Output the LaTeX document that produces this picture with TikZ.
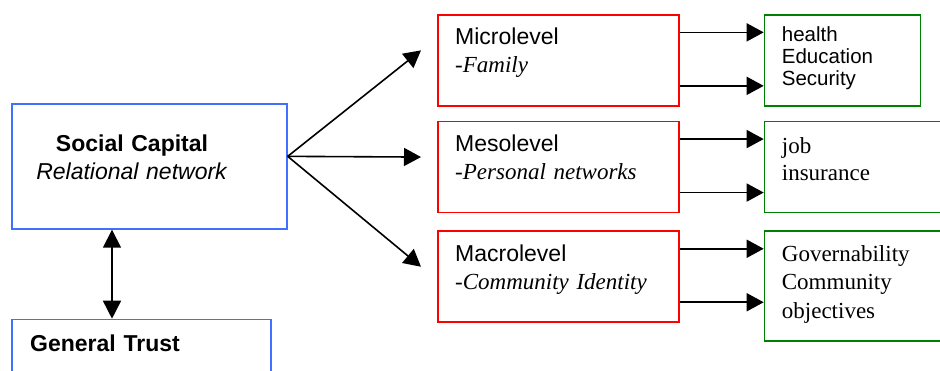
\documentclass[tikz,border=0pt]{standalone}
\usepackage{fontspec}
\setmainfont{Liberation Serif}
\setsansfont{Liberation Sans}
\usetikzlibrary{arrows.meta,positioning,calc}
\definecolor{capblue}{RGB}{64,112,255}
\definecolor{levred}{RGB}{255,0,0}
\definecolor{outgreen}{RGB}{0,128,0}
\tikzset{main base/.style={draw,line width=1.7pt,inner sep=0pt, }, }
\tikzset{main node/.style={rectangle,main base,anchor=north west}, }
\tikzset{capital node/.style={main node,draw=capblue}, }
\tikzset{level node/.style={main node,draw=levred,
    minimum width=241pt, minimum height=91pt}, }
\tikzset{result node/.style={main node,draw=outgreen,minimum height=91pt}, }
\tikzset{main verb/.style={anchor=base west,inner sep=0pt,text width=#1,align=left}, }
\tikzset{main verb/.default=220pt}
\tikzset{sans text/.style={font=\sffamily\fontsize{23}{28}\selectfont}, }
\tikzset{serif text/.style={font=\fontsize{23}{28}\selectfont}, }
\tikzset{linea/.style={-{Triangle[length=17pt,width=18pt]},line width=1.6pt,draw}}
\tikzset{linea2/.style={{Triangle[length=18pt,width=18pt]}-{Triangle[length=18pt,width=18pt]},line width=1.6pt,draw}}

\begin{document}
\begin{tikzpicture}[x=1pt,y=-1pt]
\useasboundingbox (0,0) rectangle (940,370);
%
\node[capital node,minimum width=275pt,minimum height=125pt] (1) at (11,103) {};
\node[capital node,minimum width=259pt,minimum height=90pt] (2) [below right=89pt and 0pt of 1.south west] {};
\node[level node] (3) at (437,14) {};
\node[level node] (4) [below=14pt of 3] {};
\node[level node] (5) [below=17pt of 4] {};
\node[result node,minimum width=156pt] (6) [below right=0pt and 84pt of 3.north east] {};
\node[result node,minimum width=200pt] (7) [below right=0pt and 84pt of 4.north east] {};
\node[result node,minimum width=200pt,minimum height=110pt] (8) [below right=0pt and 84pt of 5.north east] {};
%
\node[main verb=250pt,sans text,anchor=base,align=center] (9) at ($(1.north west)+(121,48)$)
  {\textbf{Social Capital}\\\textit{Relational network}};
\node[main verb,sans text] (10) at ($(2.north west)+(19,33)$) {\textbf{General Trust}};
\node[main verb,serif text] (11) at ($(3.north west)+(18,30)$) {\textsf{Microlevel}\\-\textit{Family}};
\node[main verb,serif text] (12) at ($(4.north west)+(18,31)$) {\textsf{Mesolevel}\\-\textit{Personal networks}};
\node[main verb,serif text] (13) at ($(5.north west)+(18,31)$) {\textsf{Macrolevel}\\-\textit{Community Identity}};
\node[main verb=150pt,font=\sffamily\fontsize{20.5}{22}\selectfont] (14) at ($(6.north west)+(18,27.7)$)
  {health\\Education\\Security};
\node[main verb=170pt,font=\fontsize{23}{27.5}\selectfont] (15) at ($(7.north west)+(18,32.7)$) {job\\insurance};
\node[main verb=170pt,font=\fontsize{23}{28.5}\selectfont] (16) at ($(8.north west)+(18,31)$)
  {Governability\\Community\\objectives};
%
\coordinate (0) at ([yshift=10pt]1.east);
\foreach \y in {3,4,5}
  \path[linea] (0) -- ([xshift=-16pt,yshift=10pt]\y.west);
\foreach \x /\y in {3/6,4/7,5/8} {
  \path[linea] ([yshift=28pt]\x.east) coordinate (a) -- (a -| \y.west);
  \path[linea] ([yshift=-25.5pt]\x.east) coordinate (a) -- (a -| \y.west);
}
\path[linea2] ([xshift=101pt]1.south west) coordinate (b) -- (b |- 2.north);
%
\end{tikzpicture}
\end{document}
